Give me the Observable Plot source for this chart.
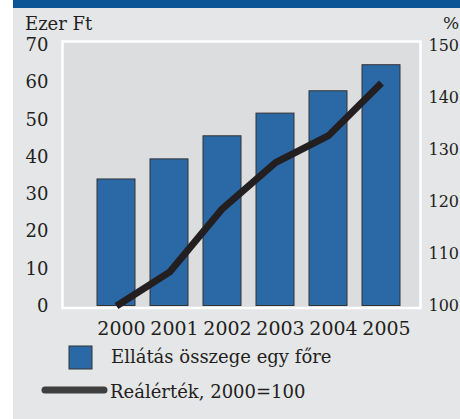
<!DOCTYPE html>
<html>
<head>
<meta charset="utf-8">
<script src="https://cdn.jsdelivr.net/npm/d3@7"></script>
<script src="https://cdn.jsdelivr.net/npm/@observablehq/plot@0.6"></script>
<style>
  html, body { margin: 0; padding: 0; overflow: hidden; background: #fff; }
  #wrap { position: relative; width: 460px; height: 419px; overflow: hidden; }
  #bg { position: absolute; left: 13px; top: 0; width: 447px; height: 419px; background: #e5e6e8; }
  #band { position: absolute; left: 13px; top: 0; width: 447px; height: 8px; background: #0b5596; }
  #chart { position: absolute; left: 0; top: 0; }
  #overlay { position: absolute; left: 0; top: 0; }
</style>
</head>
<body>
<div id="wrap">
  <div id="bg"></div>
  <div id="band"></div>
  <div id="chart"></div>
  <svg id="overlay" width="460" height="419" font-family="DejaVu Serif" font-size="18" fill="#231f20">
    <text x="25" y="30">Ezer Ft</text>
    <text x="443" y="29" font-size="17">%</text>
    <rect x="69" y="346" width="23" height="23" fill="#2a69a6" stroke="#333" stroke-width="1"></rect>
    <text x="111" y="363">Ellátás összege egy főre</text>
    <line x1="45" x2="104" y1="390" y2="390" stroke="#3f3f3f" stroke-width="7" stroke-linecap="round"></line>
    <text x="110" y="398">Reálérték, 2000=100</text>
  </svg>
</div>
<script>
const years = ["2000", "2001", "2002", "2003", "2004", "2005"];
const amount = [34.0, 39.4, 45.6, 51.7, 57.7, 64.7];      // Ezer Ft
const realValue = [100, 106.5, 118.7, 127.5, 132.7, 142.8]; // %, 2000=100
const leftTicks = [0, 10, 20, 30, 40, 50, 60, 70];
const rightTicks = [100, 110, 120, 130, 140, 150];

// right axis [100,150] shares the left scale [0,70]
const toLeft = v => (v - 100) * 70 / 50;
const fromLeft = v => v * 50 / 70 + 100;

const rows = years.map((year, i) => ({ year, amount: amount[i], real: realValue[i] }));

const chart = Plot.plot({
  width: 460,
  height: 335,
  marginLeft: 62,
  marginRight: 40,
  marginTop: 45,
  marginBottom: 29.5,
  style: { background: "transparent", fontFamily: "DejaVu Serif", fontSize: "18px", color: "#231f20", overflow: "visible" },
  x: { type: "band", domain: years, range: [88.3, 408.3], paddingInner: 0.274, paddingOuter: 0.137, axis: null },
  y: { domain: [0, 70], axis: null },
  marks: [
    Plot.frame({ fill: "#dcdddf", stroke: "#ffffff", strokeWidth: 2.5, insetTop: -4, insetBottom: -2 }),
    Plot.barY(rows, { x: "year", y: "amount", fill: "#2a69a6", stroke: "#333333", strokeWidth: 1 }),
    Plot.line(rows, { x: "year", y: d => toLeft(d.real), stroke: "#231f20", strokeWidth: 7, strokeLinecap: "butt", strokeLinejoin: "miter" }),
    Plot.axisY({ ticks: leftTicks, anchor: "left", tickSize: 0, tickPadding: 14, label: null, fill: "#231f20" }),
    Plot.axisY({ ticks: rightTicks.map(toLeft), anchor: "right", tickSize: 0, tickPadding: 8, label: null, fontSize: 16, tickFormat: v => String(Math.round(fromLeft(v))), fill: "#231f20" }),
    Plot.axisX({ ticks: years, tickSize: 0, tickPadding: 15, dx: 5, label: null, fontSize: 19, fill: "#231f20" })
  ]
});
document.getElementById("chart").appendChild(chart);
</script>
</body>
</html>
